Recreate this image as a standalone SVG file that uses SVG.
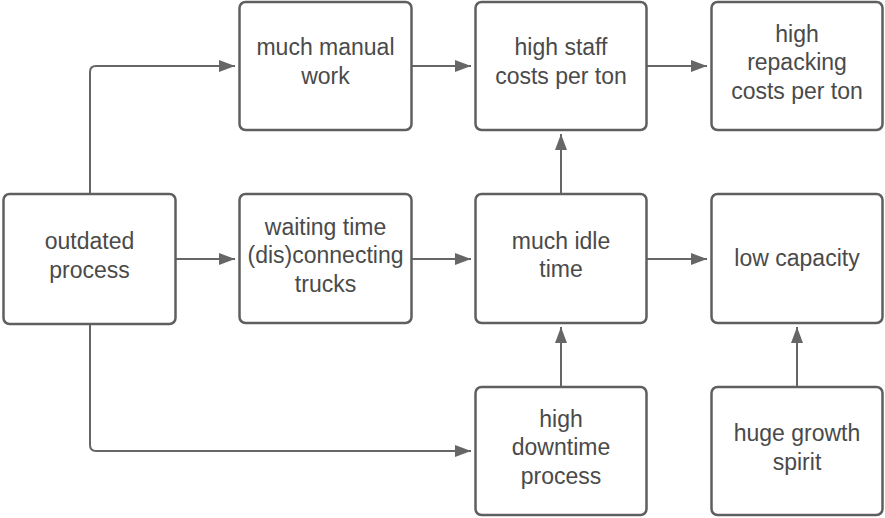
<svg xmlns="http://www.w3.org/2000/svg" width="885" height="518" viewBox="0 0 885 518">
<style>
.box{fill:#fff;stroke:#5f5f5f;stroke-width:2.5}
.t{font-family:"Liberation Sans",Arial,sans-serif;font-size:23px;fill:#4a4a4a;text-anchor:middle}
.c{fill:none;stroke:#666;stroke-width:2;stroke-linejoin:round}
</style>
<defs>
<marker id="a" viewBox="0 0 16 12" refX="16" refY="6" markerWidth="16" markerHeight="12" markerUnits="userSpaceOnUse" orient="auto">
<path d="M0,0 L16,6 L0,12 Z" fill="#666"/>
</marker>
</defs>
<rect width="885" height="518" fill="#fff"/>
<g id="connectors">
<path class="c" d="M90,193 V72 Q90,66 96,66 H235" marker-end="url(#a)"/>
<path class="c" d="M176,259 H235" marker-end="url(#a)"/>
<path class="c" d="M412,259 H471" marker-end="url(#a)"/>
<path class="c" d="M412,66 H471" marker-end="url(#a)"/>
<path class="c" d="M647,66 H707" marker-end="url(#a)"/>
<path class="c" d="M561,194 V134" marker-end="url(#a)"/>
<path class="c" d="M647,259 H707" marker-end="url(#a)"/>
<path class="c" d="M561,387 V327" marker-end="url(#a)"/>
<path class="c" d="M797,387 V327" marker-end="url(#a)"/>
<path class="c" d="M90,325 V445 Q90,451 96,451 H471" marker-end="url(#a)"/>
</g>
<g id="outdated">
<rect class="box" x="3.5" y="194" width="172" height="130" rx="6"/>
<text class="t" x="89.5" y="249">outdated</text>
<text class="t" x="89.5" y="277.5">process</text>
</g>
<g id="manual">
<rect class="box" x="239.5" y="2" width="172" height="128" rx="6"/>
<text class="t" x="325.5" y="55">much manual</text>
<text class="t" x="325.5" y="83.5">work</text>
</g>
<g id="waiting">
<rect class="box" x="239.5" y="194" width="172" height="129" rx="6"/>
<text class="t" x="325.5" y="234.5">waiting time</text>
<text class="t" x="325.5" y="263">(dis)connecting</text>
<text class="t" x="325.5" y="291.5">trucks</text>
</g>
<g id="staff">
<rect class="box" x="475.5" y="2" width="171" height="128" rx="6"/>
<text class="t" x="561" y="55">high staff</text>
<text class="t" x="561" y="83.5">costs per ton</text>
</g>
<g id="repacking">
<rect class="box" x="711.5" y="2" width="171" height="128" rx="6"/>
<text class="t" x="797" y="41.5">high</text>
<text class="t" x="797" y="70">repacking</text>
<text class="t" x="797" y="98.5">costs per ton</text>
</g>
<g id="idle">
<rect class="box" x="475.5" y="194" width="171" height="129" rx="6"/>
<text class="t" x="561" y="248.5">much idle</text>
<text class="t" x="561" y="277">time</text>
</g>
<g id="capacity">
<rect class="box" x="711.5" y="194" width="171" height="129" rx="6"/>
<text class="t" x="797" y="265.5">low capacity</text>
</g>
<g id="downtime">
<rect class="box" x="475.5" y="387" width="171" height="128" rx="6"/>
<text class="t" x="561" y="426.5">high</text>
<text class="t" x="561" y="455">downtime</text>
<text class="t" x="561" y="483.5">process</text>
</g>
<g id="growth">
<rect class="box" x="711.5" y="387" width="171" height="128" rx="6"/>
<text class="t" x="797" y="441">huge growth</text>
<text class="t" x="797" y="469.5">spirit</text>
</g>
</svg>
